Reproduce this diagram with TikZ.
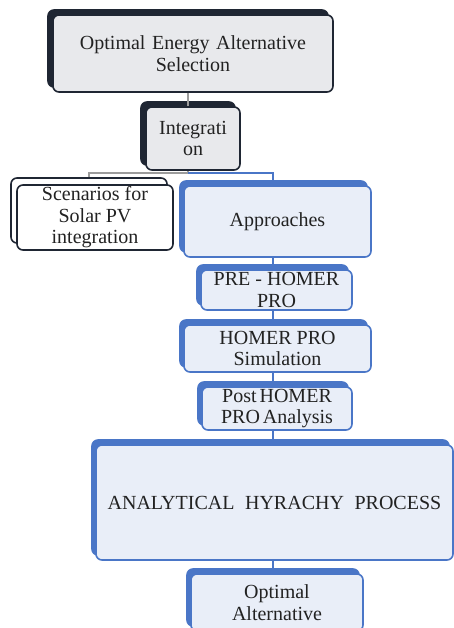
\documentclass[tikz,border=0pt]{standalone}
\usepackage{fontspec}
\setmainfont{Liberation Serif}
\usetikzlibrary{shadows}
\definecolor{darkb}{HTML}{1F2633}
\definecolor{grayfill}{HTML}{E8E9EC}
\definecolor{blueb}{HTML}{4A76C7}
\definecolor{bluefill}{HTML}{E9EEF8}
\definecolor{txt}{HTML}{222222}
\definecolor{linegray}{HTML}{9C9C9C}
\tikzset{
  boxbase/.style={rectangle, rounded corners=6pt, line width=1.6pt, inner sep=0pt,
    align=center, text=txt, font=\fontsize{20}{21.5}\selectfont},
  graybox/.style={boxbase, draw=darkb, fill=grayfill,
    copy shadow={shadow xshift=-5pt, shadow yshift=5pt, fill=darkb, draw=darkb}},
  outlinebox/.style={boxbase, draw=darkb, fill=white,
    copy shadow={shadow xshift=-6pt, shadow yshift=7pt, fill=white, draw=darkb, line width=1.6pt}},
  bluebox/.style={boxbase, draw=blueb, fill=bluefill,
    copy shadow={shadow xshift=-4pt, shadow yshift=5pt, fill=blueb, draw=blueb}},
  grayline/.style={draw=linegray, line width=1.4pt},
  blueline/.style={draw=blueb, line width=1.6pt},
}
\begin{document}
\begin{tikzpicture}[x=1pt,y=-1pt]
\useasboundingbox (0,0) rectangle (454,628);
\clip (0,0) rectangle (454,628);
\coordinate (spineA) at (188,0);
\coordinate (spineB) at (273,0);
\coordinate (bar) at (0,173);
\coordinate (leftdrop) at (89,0);

\node[graybox, minimum width=280pt, minimum height=77pt] (top) at (193,53.5)
  {Optimal\hspace{0.08em} Energy\hspace{0.08em} Alternative\\Selection};
\node[graybox, minimum width=94pt, minimum height=63pt] (integ) at (193,138.5)
  {Integrati\\on};
\node[outlinebox, minimum width=156pt, minimum height=65pt] (scen) at (95,217.5)
  {Scenarios for\\Solar PV\\integration};
\node[bluebox, minimum width=187pt, minimum height=71pt] (appr) at (277.5,221.5)
  {Approaches};
\node[bluebox, minimum width=151pt, minimum height=40pt] (pre) at (276.5,290)
  {PRE - HOMER\\PRO};
\node[bluebox, minimum width=187pt, minimum height=47pt] (sim) at (277.5,348.5)
  {HOMER PRO\\Simulation};
\node[bluebox, minimum width=150pt, minimum height=43pt] (post) at (277,408.5)
  {Post\hspace{-0.1em} HOMER\\PRO\hspace{-0.1em} Analysis};
\node[bluebox, minimum width=357pt, minimum height=115pt] (ahp) at (274.5,502.5)
  {ANALYTICAL\hspace{0.28em} HYRACHY\hspace{0.28em} PROCESS};
\node[bluebox, minimum width=172pt, minimum height=57pt] (opt) at (277,602.5)
  {Optimal\\Alternative};

% connectors
\draw[grayline] (top.south -| spineA) -- (integ.north -| spineA);
\draw[grayline] (integ.south -| spineA) -- (bar -| spineA) -- (bar -| leftdrop) -- ([yshift=7pt]scen.north -| leftdrop);
\draw[blueline] (bar -| spineA) -- (bar -| spineB) -- ([yshift=5pt]appr.north -| spineB);
\draw[blueline] (appr.south -| spineB) -- ([yshift=5pt]pre.north -| spineB);
\draw[blueline] (pre.south -| spineB) -- ([yshift=5pt]sim.north -| spineB);
\draw[blueline] (sim.south -| spineB) -- ([yshift=5pt]post.north -| spineB);
\draw[blueline] (post.south -| spineB) -- ([yshift=5pt]ahp.north -| spineB);
\draw[blueline] (ahp.south -| spineB) -- ([yshift=5pt]opt.north -| spineB);
\end{tikzpicture}
\end{document}
